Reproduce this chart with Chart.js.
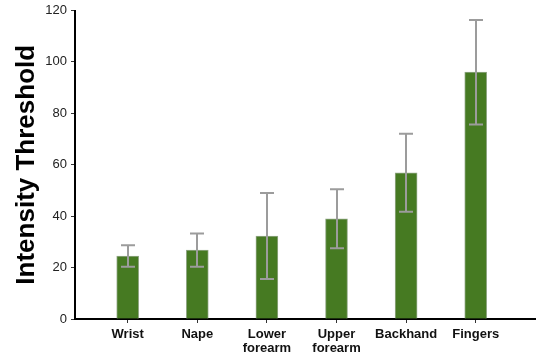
<!DOCTYPE html>
<html>
<head>
<meta charset="utf-8">
<script src="https://cdn.jsdelivr.net/npm/chart.js@4/dist/chart.umd.min.js"></script>
<style>
  html, body { margin: 0; padding: 0; background: #fff; }
  #wrap { width: 536px; height: 358px; position: relative; }
</style>
</head>
<body>
<div id="wrap"><canvas id="c"></canvas></div>
<script>
// Body sites (x-axis labels, multi-line where wrapped)
const categories = [["Wrist"], ["Nape"], ["Lower", "forearm"], ["Upper", "forearm"], ["Backhand"], ["Fingers"]];
// Mean intensity threshold per site
const means = [24.5, 26.8, 32.3, 39.0, 56.9, 96.0];
// Error bar half-length (±) per site
const errors = [4.2, 6.5, 16.7, 11.5, 15.2, 20.3];
// Y-axis tick values
const yTicks = [0, 20, 40, 60, 80, 100, 120];

const barData = means.map((m, i) => ({ x: i + 1, y: m }));

const errorBars = {
  id: 'errorBars',
  afterDatasetsDraw(chart) {
    const ctx = chart.ctx;
    const meta = chart.getDatasetMeta(0);
    const y = chart.scales.y;
    ctx.save();
    ctx.strokeStyle = '#9c9c9c';
    ctx.lineWidth = 2;
    meta.data.forEach((bar, i) => {
      const top = y.getPixelForValue(means[i] + errors[i]);
      const bot = y.getPixelForValue(means[i] - errors[i]);
      const x = Math.round(bar.x);
      ctx.beginPath();
      ctx.moveTo(x, top); ctx.lineTo(x, bot);
      ctx.moveTo(x - 7, top); ctx.lineTo(x + 7, top);
      ctx.moveTo(x - 7, bot); ctx.lineTo(x + 7, bot);
      ctx.stroke();
    });
    ctx.restore();
  }
};

new Chart(document.getElementById('c'), {
  type: 'bar',
  data: {
    datasets: [{
      data: barData,
      backgroundColor: '#467a22',
      borderColor: '#93a887',
      borderWidth: 1,
      barThickness: 22
    }]
  },
  options: {
    responsive: true,
    maintainAspectRatio: false,
    animation: false,
    layout: { padding: { top: 5, right: 0, left: 0, bottom: 0 } },
    plugins: { legend: { display: false }, tooltip: { enabled: false } },
    scales: {
      x: {
        type: 'linear',
        offset: false,
        min: 0.243,
        max: 6.866,
        afterBuildTicks(scale) {
          scale.ticks = categories.map((c, i) => ({ value: i + 1 }));
        },
        afterFit(scale) { scale.height = 39; },
        border: { display: true, color: '#000', width: 2 },
        grid: { offset: false, drawOnChartArea: false, drawTicks: true, tickLength: 4, color: '#333', lineWidth: 1 },
        ticks: {
          autoSkip: false,
          maxRotation: 0,
          padding: 5,
          color: '#111',
          font: { family: 'Arial, "Liberation Sans", sans-serif', size: 13, weight: 'bold', lineHeight: 1.05 },
          callback: (v) => categories[v - 1]
        }
      },
      y: {
        min: 0,
        max: 120,
        afterBuildTicks(scale) {
          scale.ticks = yTicks.map(v => ({ value: v }));
        },
        afterFit(scale) { scale.width = 75; },
        border: { display: true, color: '#000', width: 2 },
        grid: { drawOnChartArea: false, drawTicks: true, tickLength: 4, color: '#333', lineWidth: 1 },
        ticks: {
          padding: 4,
          color: '#222',
          font: { family: 'Arial, "Liberation Sans", sans-serif', size: 13, lineHeight: 1 }
        },
        title: {
          display: true,
          text: 'Intensity Threshold',
          color: '#000',
          padding: { top: 11, bottom: 0 },
          font: { family: 'Arial, "Liberation Sans", sans-serif', size: 26, weight: 'bold' }
        }
      }
    }
  },
  plugins: [errorBars]
});
</script>
</body>
</html>
